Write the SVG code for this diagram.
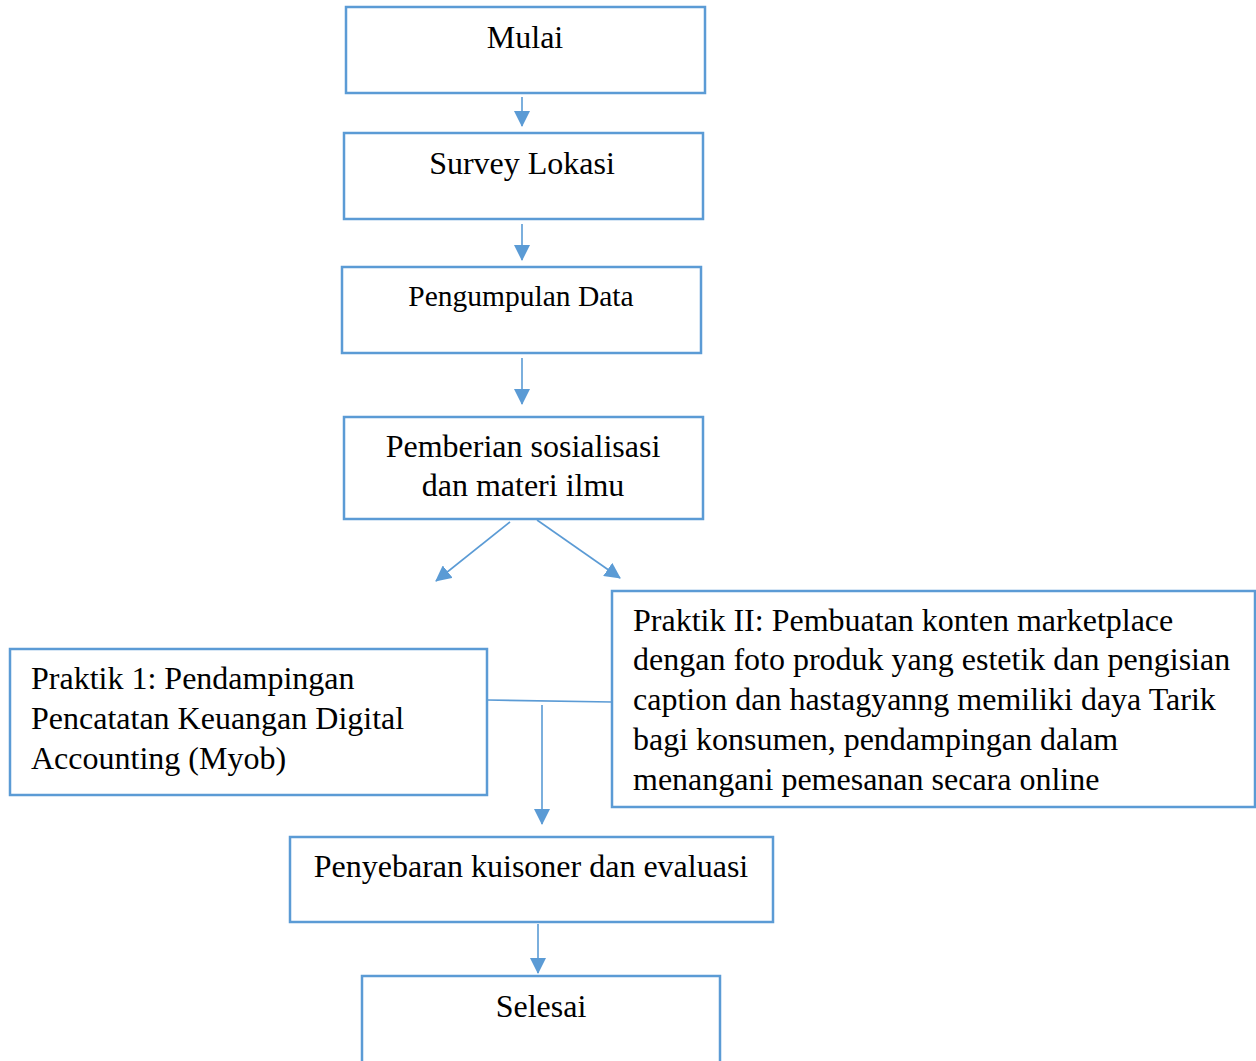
<svg xmlns="http://www.w3.org/2000/svg" width="1256" height="1061" viewBox="0 0 1256 1061">
<style>
.box{fill:#fff;stroke:#5B9BD5;stroke-width:2.5}
.t{font-family:"Liberation Serif","Times New Roman",serif;font-size:32px;fill:#000}
.c{text-anchor:middle}
.ln{stroke:#5B9BD5;stroke-width:1.6;fill:none}
</style>
<defs>
<marker id="ah" markerUnits="userSpaceOnUse" markerWidth="16" markerHeight="16" viewBox="0 0 16 16" refX="15" refY="8" orient="auto">
<path d="M0,0 L16,8 L0,16 Z" fill="#5B9BD5"/>
</marker>
</defs>
<rect width="1256" height="1061" fill="#fff"/>
<g id="connectors">
<line class="ln" x1="522" y1="97" x2="522" y2="126" marker-end="url(#ah)"/>
<line class="ln" x1="522" y1="224" x2="522" y2="260" marker-end="url(#ah)"/>
<line class="ln" x1="522" y1="358" x2="522" y2="404" marker-end="url(#ah)"/>
<line class="ln" x1="510" y1="522" x2="436" y2="581" marker-end="url(#ah)"/>
<line class="ln" x1="537" y1="520" x2="620" y2="578" marker-end="url(#ah)"/>
<line class="ln" x1="487" y1="700" x2="612" y2="702"/>
<line class="ln" x1="542" y1="705" x2="542" y2="824" marker-end="url(#ah)"/>
<line class="ln" x1="538" y1="924" x2="538" y2="973" marker-end="url(#ah)"/>
</g>
<g id="mulai">
<rect class="box" x="346" y="7" width="359" height="86"/>
<text class="t c" x="525" y="48">Mulai</text>
</g>
<g id="survey">
<rect class="box" x="344" y="133" width="359" height="86"/>
<text class="t c" x="522" y="174">Survey Lokasi</text>
</g>
<g id="pengumpulan">
<rect class="box" x="342" y="267" width="359" height="86"/>
<text class="t c" x="521" y="306" style="font-size:29.5px">Pengumpulan Data</text>
</g>
<g id="pemberian">
<rect class="box" x="344" y="417" width="359" height="102"/>
<text class="t c" x="523" y="457">Pemberian sosialisasi</text>
<text class="t c" x="523" y="496">dan materi ilmu</text>
</g>
<g id="praktik2">
<rect class="box" x="612" y="591" width="643" height="216"/>
<text class="t" x="633" y="631">Praktik II: Pembuatan konten marketplace</text>
<text class="t" x="633" y="670">dengan foto produk yang estetik dan pengisian</text>
<text class="t" x="633" y="710">caption dan hastagyanng memiliki daya Tarik</text>
<text class="t" x="633" y="750">bagi konsumen, pendampingan dalam</text>
<text class="t" x="633" y="790">menangani pemesanan secara online</text>
</g>
<g id="praktik1">
<rect class="box" x="10" y="649" width="477" height="146"/>
<text class="t" x="31" y="689">Praktik 1: Pendampingan</text>
<text class="t" x="31" y="729">Pencatatan Keuangan Digital</text>
<text class="t" x="31" y="769">Accounting (Myob)</text>
</g>
<g id="penyebaran">
<rect class="box" x="290" y="837" width="483" height="85"/>
<text class="t c" x="531" y="877">Penyebaran kuisoner dan evaluasi</text>
</g>
<g id="selesai">
<rect class="box" x="362" y="976" width="358" height="100"/>
<text class="t c" x="541" y="1017">Selesai</text>
</g>
</svg>
